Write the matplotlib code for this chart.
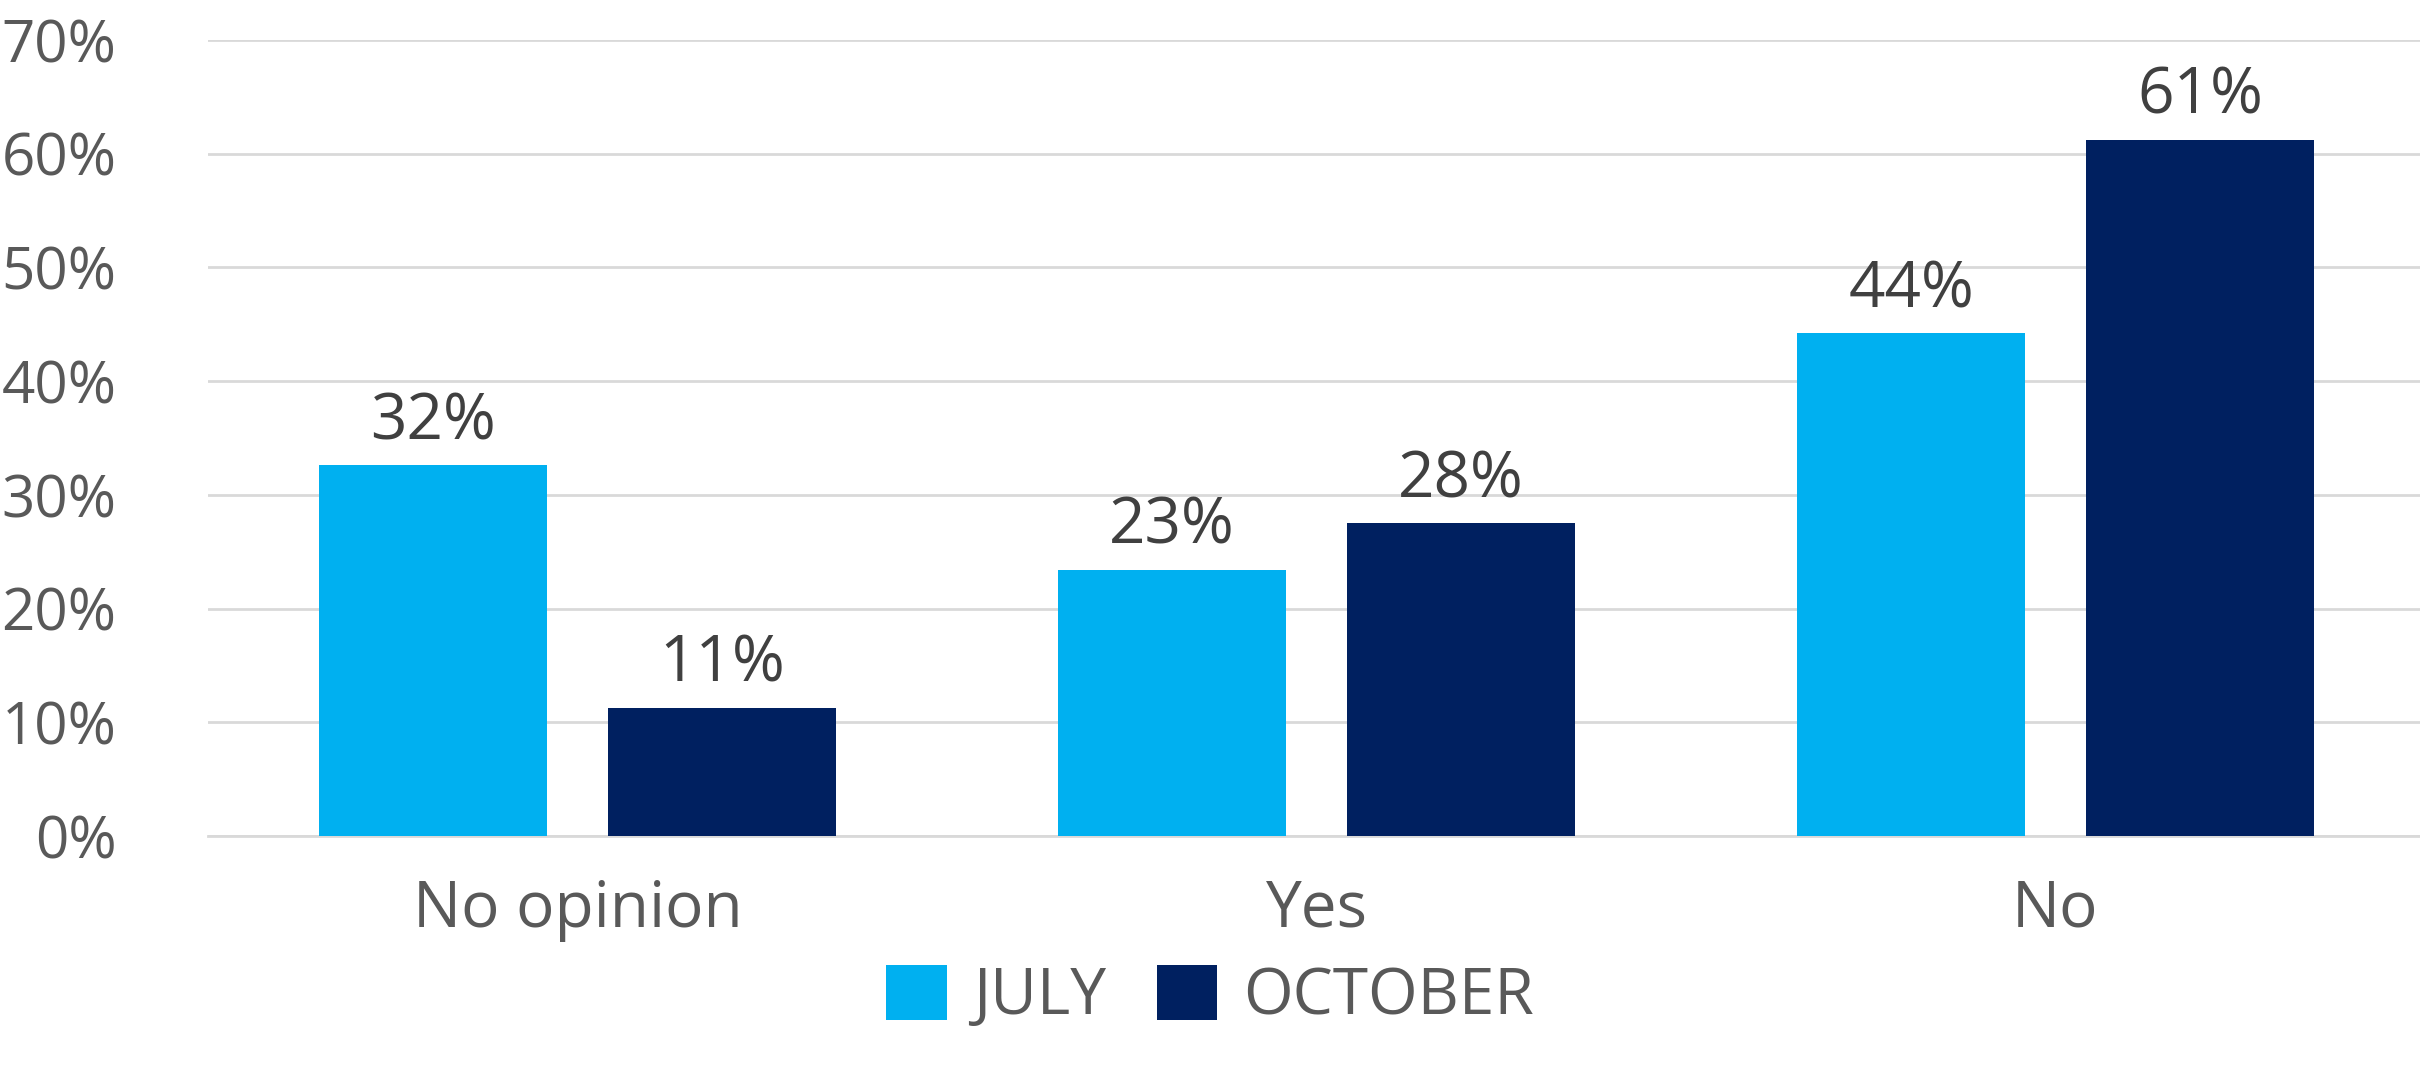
import matplotlib
matplotlib.use("Agg")
import matplotlib.pyplot as plt
import numpy as np

categories = ["No opinion", "Yes", "No"]
july = [32.6, 23.4, 44.2]
october = [11.3, 27.5, 61.2]
july_labels = ["32%", "23%", "44%"]
october_labels = ["11%", "28%", "61%"]
yticks = [0, 10, 20, 30, 40, 50, 60, 70]

W, H = 2420, 1074
fig = plt.figure(figsize=(W/100, H/100), dpi=100)
plt.rcParams['font.family'] = ['Open Sans', 'DejaVu Sans']
left, right = 208, 2420
top, bottom = 40, 836
ax = fig.add_axes([left/W, 1-bottom/H, (right-left)/W, (bottom-top)/H])
x = np.arange(3)
bw = 228/739
off = 144.5/739
b1 = ax.bar(x-off, july, bw, color="#00B0F0", label="JULY", zorder=3)
b2 = ax.bar(x+off, october, bw, color="#002060", label="OCTOBER", zorder=3)
ax.set_xlim(-0.5+(0)/739, -0.5+(right-left)/739)
ax.set_ylim(0, 70)
ax.set_yticks(yticks)
ax.set_yticklabels([f"{v}%" for v in yticks], fontsize=42, color="#595959")
ax.set_xticks(x)
ax.set_xticklabels(categories, fontsize=46, color="#595959")
ax.tick_params(axis='both', length=0)
ax.tick_params(axis='y', pad=66)
ax.tick_params(axis='x', pad=30)
for l in ax.get_yticklabels():
    l.set_ha('right')
ax.tick_params(axis='y', pad=66)
ax.grid(axis='y', color="#D9D9D9", linewidth=2, zorder=0)
for s in ["top", "right", "left"]:
    ax.spines[s].set_visible(False)
ax.spines["bottom"].set_color("#D9D9D9")
ax.spines["bottom"].set_linewidth(2)
for xs, vals, labs in [(x-off, july, july_labels), (x+off, october, october_labels)]:
    for xi, v, t in zip(xs, vals, labs):
        ax.annotate(t, (xi, v), xytext=(0, 8), textcoords="offset points", ha="center", va="bottom", fontsize=46, color="#404040", zorder=4)
fig.legend(handles=[b1, b2], loc="lower center", bbox_to_anchor=(1210/W, -0.012), ncol=2, frameon=False, fontsize=46,
           labelcolor="#595959", handlelength=0.95, handleheight=0.95, handletextpad=0.4, columnspacing=0.8)
fig.savefig("out.png", dpi=100)
